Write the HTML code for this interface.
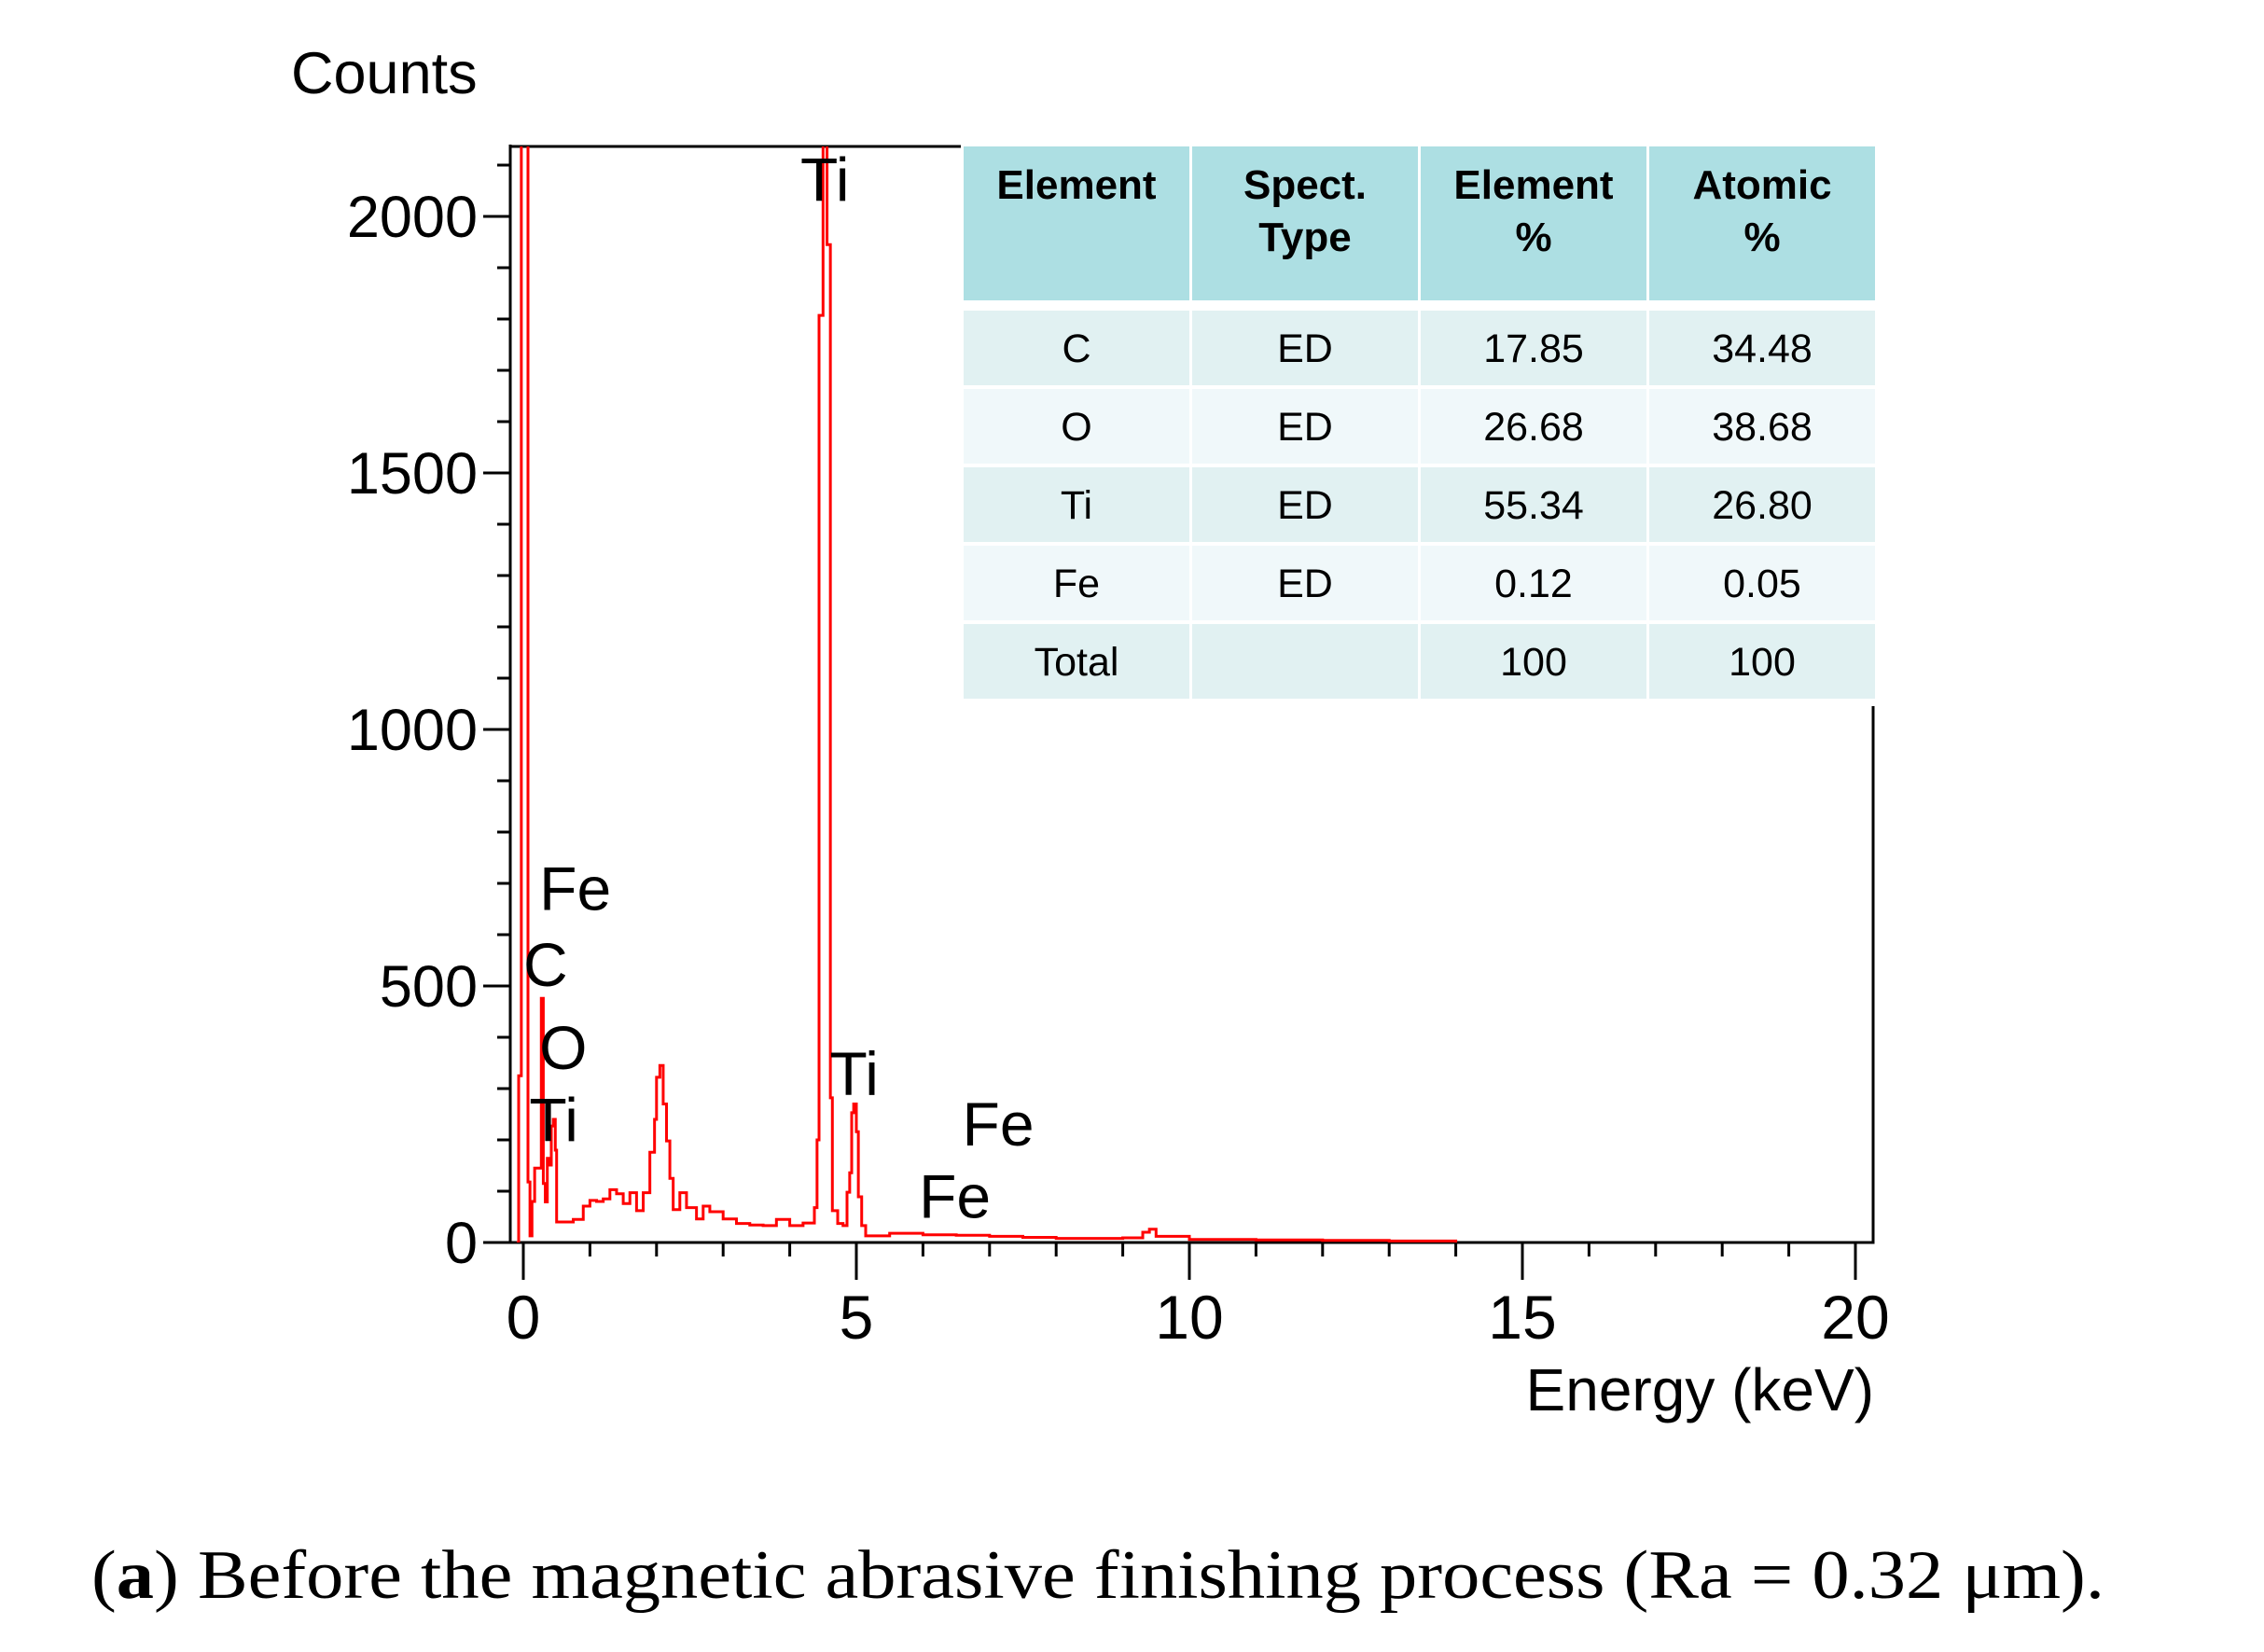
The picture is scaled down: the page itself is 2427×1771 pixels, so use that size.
<!DOCTYPE html>
<html><head><meta charset="utf-8"><style>
html,body{margin:0;padding:0;background:#fff;}
svg{display:block;}
text{font-family:"Liberation Sans",Arial,sans-serif;}
</style></head><body>
<svg id="chart" width="2427" height="1771" viewBox="0 0 2427 1771" xmlns="http://www.w3.org/2000/svg">
<defs><clipPath id="plotclip"><rect x="548" y="157" width="1460" height="1175"/></clipPath></defs>
<g id="axes"></g>
<g id="series" clip-path="url(#plotclip)"></g>
<g id="labels"></g>
<g id="table"></g>
<text x="312" y="100" font-size="63">Counts</text>
<text x="2009" y="1512" font-size="64" text-anchor="end">Energy (keV)</text>
<text x="98" y="1713" font-size="74" textLength="2158" lengthAdjust="spacingAndGlyphs" style="font-family:'Liberation Serif',serif">(<tspan font-weight="bold">a</tspan>) Before the magnetic abrasive finishing process (Ra = 0.32 μm).</text>
</svg>
<script>
const energies=[-0.1,-0.07,-0.03,0.07,0.10,0.13,0.17,0.27,0.30,0.33,0.36,0.39,0.42,0.45,0.48,0.5,0.6,0.75,0.9,1.0,1.1,1.2,1.3,1.4,1.5,1.6,1.7,1.8,1.9,1.97,2.0,2.05,2.1,2.15,2.2,2.25,2.35,2.45,2.6,2.7,2.8,3.0,3.2,3.4,3.6,3.8,4.0,4.2,4.37,4.41,4.44,4.5,4.56,4.61,4.64,4.72,4.8,4.86,4.9,4.93,4.96,5.0,5.03,5.08,5.14,5.5,6.0,6.5,7.0,7.5,8.0,8.5,9.0,9.3,9.4,9.5,10.0,11.0,12.0,13.0,14.0];
const counts=[0,325,2200,118,13,80,145,476,115,79,164,151,227,240,180,40,40,45,71,82,80,85,103,95,76,97,62,97,176,240,322,345,270,198,125,64,97,68,46,71,60,46,37,34,33,45,33,38,68,200,1807,2200,1945,282,62,37,33,98,136,253,270,216,89,33,13,18,15,14,12,10,8,8,9,20,26,12,6,5,4,3,0];
const yTicks=[0,500,1000,1500,2000];
const xTicks=[0,5,10,15,20];
const tableHeaders=["Element","Spect.\nType","Element\n%","Atomic\n%"];
const tableElements=["C","O","Ti","Fe","Total"];
const tableSpect=["ED","ED","ED","ED",""];
const tableWt=["17.85","26.68","55.34","0.12","100"];
const tableAt=["34.48","38.68","26.80","0.05","100"];
const peakLabels=["Fe","C","O","Ti","Ti","Ti","Fe","Fe"];
const peakLabelE=[0.24,0.0,0.24,0.09,4.16,4.6,6.59,5.94];
const peakLabelC=[648,500,338,197,2030,287,189,48];

const NS="http://www.w3.org/2000/svg";
const X0=561,XS=71.4,Y0=1332,YS=0.55;
const xs=e=>X0+e*XS, ys=c=>Y0-c*YS;
function mk(tag,attrs,parent){const el=document.createElementNS(NS,tag);for(const k in attrs)el.setAttribute(k,attrs[k]);parent.appendChild(el);return el;}
const axes=document.getElementById('axes');
let f=mk('path',{d:`M547 155 V1332 H2008 V755 M547 157 H1032`,fill:'none',stroke:'#000','stroke-width':3},axes);


for(let c=0;c<=2100;c+=100){
  const major=c%500===0;
  const t=mk('line',{x1:major?518:533,x2:547,y1:ys(c),y2:ys(c),stroke:'#000','stroke-width':3},axes);
  
  
}
yTicks.forEach(v=>{
  const t=mk('text',{x:512,y:ys(v)+22,'font-size':63,'text-anchor':'end'},axes);t.textContent=v;
  
  
});
for(let e=0;e<=20;e++){
  const major=e%5===0;
  const t=mk('line',{x1:xs(e),x2:xs(e),y1:1332,y2:major?1372:1347,stroke:'#000','stroke-width':3},axes);
  
  
}
xTicks.forEach(v=>{
  const t=mk('text',{x:xs(v),y:1435,'font-size':66,'text-anchor':'middle'},axes);t.textContent=v;
  
  
});
let d='';
energies.forEach((e,i)=>{
  if(i===0)d+=`M${xs(e)} ${ys(counts[i])}`;
  else d+=` H${xs(e)} V${ys(counts[i])}`;
});
const line=mk('path',{d:d,fill:'none',stroke:'#ff0000','stroke-width':3},document.getElementById('series'));


const lg=document.getElementById('labels');
peakLabels.forEach((s,i)=>{
  const t=mk('text',{x:xs(peakLabelE[i]),y:ys(peakLabelC[i]),'font-size':66},lg);t.textContent=s;
  
  
});
const tg=document.getElementById('table');
const colX=[1033,1278,1523,1768],colW=242;
const rowY=[333,417,501,585,669],rowH=80;
mk('rect',{x:1030,y:155,width:985,height:602,fill:'#fff'},tg);
tableHeaders.forEach((h,j)=>{
  const r=mk('rect',{x:colX[j],y:157,width:colW,height:165,fill:'#addfe3'},tg);
  
  
  h.split('\n').forEach((ln,k)=>{
    const t=mk('text',{x:colX[j]+colW/2,y:213+k*56,'font-size':44,'font-weight':'bold','text-anchor':'middle'},tg);t.textContent=ln;
    
    
  });
});
const cols=[tableElements,tableSpect,tableWt,tableAt];
tableElements.forEach((el,i)=>{
  cols.forEach((col,j)=>{
    const r=mk('rect',{x:colX[j],y:rowY[i],width:colW,height:rowH,fill:i%2===0?'#e1f1f2':'#f0f8fa'},tg);
    
    
    const t=mk('text',{x:colX[j]+colW/2,y:rowY[i]+55,'font-size':43,'text-anchor':'middle'},tg);t.textContent=col[i];
    
    
  });
});
</script>
</body></html>
